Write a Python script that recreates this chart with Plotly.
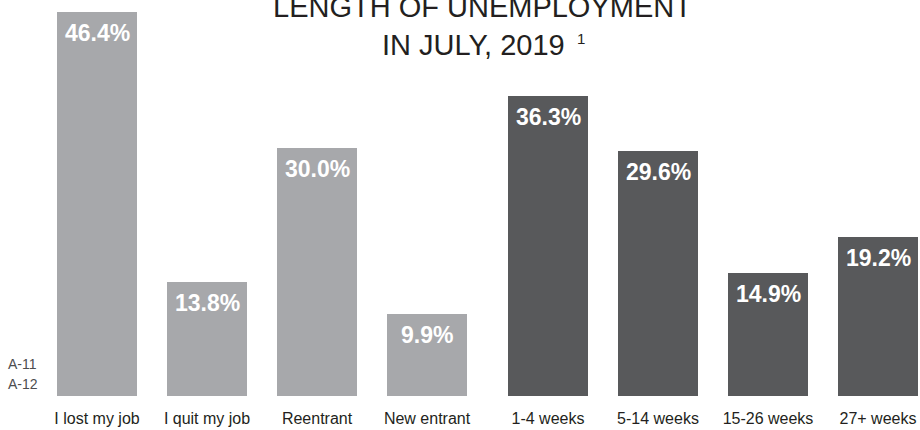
import plotly.graph_objects as go

# ---- data ----
reason_labels = ["I lost my job", "I quit my job", "Reentrant", "New entrant"]
reason_values = [46.4, 13.8, 30.0, 9.9]
length_labels = ["1-4 weeks", "5-14 weeks", "15-26 weeks", "27+ weeks"]
length_values = [36.3, 29.6, 14.9, 19.2]
title_line1 = "LENGTH OF UNEMPLOYMENT"
title_line2 = "IN JULY, 2019"
footnote_mark = "1"
side_notes = ["A-11", "A-12"]

# ---- styling ----
LIGHT = "#a7a8ab"
DARK = "#58595b"
TEXT = "#231f20"
SANS = "Liberation Sans, Arial, sans-serif"
GROUP_GAP = 0.1
BAR_W = 0.73

reason_x = [i for i in range(len(reason_labels))]
length_x = [len(reason_labels) + GROUP_GAP + i for i in range(len(length_labels))]

fig = go.Figure()
fig.add_trace(go.Bar(x=reason_x, y=reason_values, width=BAR_W,
                     marker=dict(color=LIGHT, line=dict(width=0)),
                     hoverinfo="skip", showlegend=False))
fig.add_trace(go.Bar(x=length_x, y=length_values, width=BAR_W,
                     marker=dict(color=DARK, line=dict(width=0)),
                     hoverinfo="skip", showlegend=False))

annotations = []
for xs, vs in ((reason_x, reason_values), (length_x, length_values)):
    for x, v in zip(xs, vs):
        annotations.append(dict(x=x, y=v, xref="x", yref="y", text=f"{v:.1f}%",
                                showarrow=False, yanchor="top", yshift=-6,
                                font=dict(family=SANS, size=23, color="white",
                                          weight="bold")))

def py(p):
    """pixel row -> paper y (plot area spans rows 12..396)"""
    return (396 - p) / 384

annotations.append(dict(x=482 / 920, y=py(7), xref="paper", yref="paper",
                        text=title_line1, showarrow=False, yanchor="middle",
                        xanchor="center",
                        font=dict(family=SANS, size=29, color=TEXT)))
annotations.append(dict(x=473 / 920, y=py(45), xref="paper", yref="paper",
                        text=title_line2, showarrow=False, yanchor="middle",
                        xanchor="center",
                        font=dict(family=SANS, size=29, color=TEXT)))
annotations.append(dict(x=575 / 920, y=py(38), xref="paper", yref="paper",
                        text=footnote_mark, showarrow=False, yanchor="middle",
                        xanchor="left",
                        font=dict(family=SANS, size=15, color=TEXT)))
for i, s in enumerate(side_notes):
    annotations.append(dict(x=6 / 920, y=py(364 + 20 * i), xref="paper",
                            yref="paper", text=s, showarrow=False,
                            yanchor="middle", xanchor="left",
                            font=dict(family=SANS, size=14, color="#4d4d4f")))

fig.update_layout(
    width=920, height=430,
    margin=dict(l=0, r=0, t=12, b=34, autoexpand=False),
    paper_bgcolor="white", plot_bgcolor="white",
    bargap=0,
    xaxis=dict(range=[-97 / 110, (920 - 97) / 110],
               tickvals=reason_x + length_x,
               ticktext=reason_labels + length_labels,
               showgrid=False, zeroline=False, showline=False, ticks="",
               automargin=False, ticklabelstandoff=11,
               tickfont=dict(family=SANS, size=16, color=TEXT)),
    yaxis=dict(range=[0, 46.4], visible=False, showgrid=False, zeroline=False,
               automargin=False),
    annotations=annotations,
)

fig.write_html("out.html", config={"displayModeBar": False},
               post_script="document.body.style.margin='0px';document.body.style.padding='0px';")
